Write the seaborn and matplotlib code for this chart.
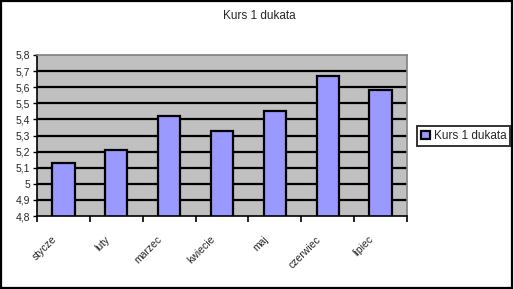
import matplotlib
matplotlib.use("Agg")
import matplotlib.pyplot as plt
import matplotlib.transforms as mtransforms
import seaborn as sns
import pandas as pd
import numpy as np
from matplotlib.ticker import FixedLocator, FuncFormatter
from matplotlib.patches import Rectangle

months = ["stycze", "luty", "marzec", "kwiecie", "maj", "czerwiec", "lipiec"]
values = [5.13, 5.21, 5.42, 5.33, 5.45, 5.67, 5.58]
series_name = "Kurs 1 dukata"

df = pd.DataFrame({"month": months, "value": values, "series": series_name})

sns.set_style("white")
plt.rcParams['font.family'] = ['Liberation Sans', 'DejaVu Sans']

fig = plt.figure(figsize=(5.14, 2.89), dpi=100)
ax = fig.add_axes([37/514, 1 - 216/289, 370/514, 161/289])
ax.set_facecolor("#C0C0C0")

ax.set_ylim(4.8, 5.8)
yt = np.round(np.arange(4.8, 5.81, 0.1), 1)
ax.yaxis.set_major_locator(FixedLocator(yt))
ax.yaxis.set_major_formatter(FuncFormatter(lambda v, p: (f"{v:.1f}".rstrip('0').rstrip('.')).replace('.', ',')))
for y in yt[1:-1]:
    ax.axhline(y, color="black", lw=1.6, zorder=0.5)

sns.barplot(data=df, x="month", y="value", hue="series", palette=["#9999FF"],
            saturation=1, width=0.42, edgecolor="black", linewidth=1.6, ax=ax, zorder=2)
ax.set_xlim(-0.5, len(months) - 0.5)
ax.set_xlabel("")
ax.set_ylabel("")

for s in ["top", "right"]:
    ax.spines[s].set_color("#808080")
    ax.spines[s].set_linewidth(1.2)
for s in ["left", "bottom"]:
    ax.spines[s].set_color("black")
    ax.spines[s].set_linewidth(1.2)

ax.tick_params(axis="y", length=3, width=1, labelsize=7.5, pad=2, left=True, color="black")
ax.set_xticks(range(len(months)))
ax.set_xticklabels(months, rotation=45, ha="right", rotation_mode="anchor", fontsize=7.5)
ax.tick_params(axis="x", which="major", length=0, pad=8)
ax.set_xticks(np.arange(-0.5, len(months), 1.0), minor=True)
ax.tick_params(axis="x", which="minor", length=4, width=1.2, color="black", bottom=True)
offset = mtransforms.ScaledTranslation(-12/100, -7/100, fig.dpi_scale_trans)
for lab in ax.get_xticklabels():
    lab.set_transform(lab.get_transform() + offset)

leg = ax.legend(loc="center left", bbox_to_anchor=(417/514, 1 - 136/289),
                bbox_transform=fig.transFigure, frameon=True, fancybox=False,
                fontsize=8.5, handlelength=0.75, handleheight=0.75, handletextpad=0.3,
                borderpad=0.35, borderaxespad=0)
leg.get_frame().set_edgecolor("black")
leg.get_frame().set_linewidth(1.4)

fig.text(259/514, 1 - 16/289, "Kurs 1 dukata", ha="center", va="center", fontsize=8.5)

fig.patches.append(Rectangle((0.002, 0.003), 0.994, 0.994, transform=fig.transFigure,
                             fill=False, edgecolor="black", lw=1.6))

fig.savefig("out.png", dpi=100)
